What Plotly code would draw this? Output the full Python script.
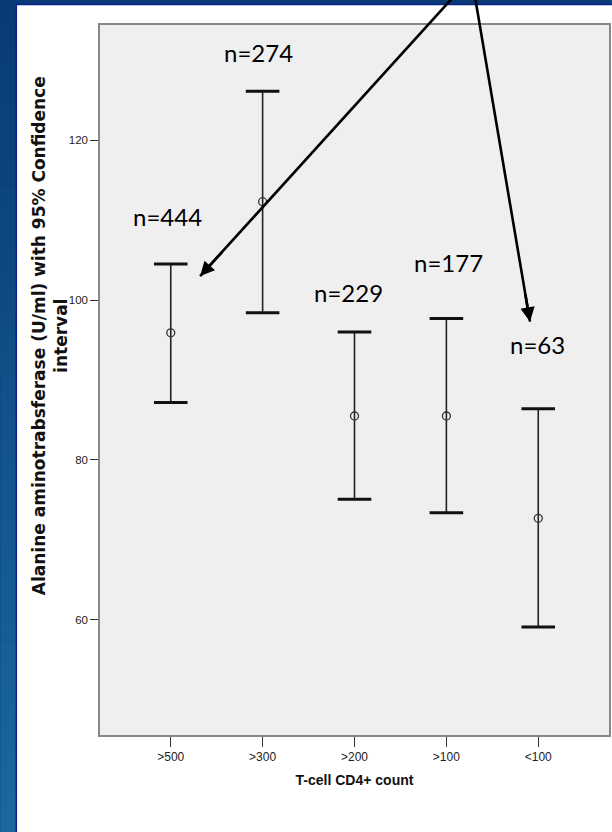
import plotly.graph_objects as go

# CD4+ count groups and ALT (U/ml) mean with 95% confidence interval
groups = [">500", ">300", ">200", ">100", "<100"]
alt_mean = [95.9, 112.3, 85.5, 85.5, 72.7]
ci_upper = [104.5, 126.1, 96.0, 97.7, 86.4]
ci_lower = [87.2, 98.4, 75.1, 73.4, 59.1]
n_labels = ["n=444", "n=274", "n=229", "n=177", "n=63"]

# placement of the n= labels (x in category units, y in axis units)
n_label_x = [-0.03, 0.96, 1.94, 3.02, 3.99]
n_label_y = [110.4, 130.9, 101.0, 104.75, 94.4]

W, H = 612, 832
L, R, T, B = 100, 1, 25, 97
PW, PH = W - L - R, H - T - B
X_RANGE = [-0.77, 4.77]
Y_RANGE = [45.6, 134.4]


def px(x):
    return (x - L) / PW


def py(y):
    return (H - B - y) / PH


def to_px(x, y):
    return (L + (x - X_RANGE[0]) / (X_RANGE[1] - X_RANGE[0]) * PW,
            T + (Y_RANGE[1] - y) / (Y_RANGE[1] - Y_RANGE[0]) * PH)


xi = list(range(len(groups)))
err_plus = [u - m for u, m in zip(ci_upper, alt_mean)]
err_minus = [m - l for m, l in zip(alt_mean, ci_lower)]

fig = go.Figure()

# vertical CI whiskers and mean markers
fig.add_trace(go.Scatter(
    x=xi, y=alt_mean, mode="markers",
    marker=dict(symbol="circle-open", size=8, color="#333333",
                line=dict(width=1.3, color="#333333")),
    error_y=dict(type="data", array=err_plus, arrayminus=err_minus,
                 symmetric=False, thickness=1.6, width=0, color="#222222"),
    showlegend=False, hoverinfo="skip",
))
# heavy caps at both CI ends
fig.add_trace(go.Scatter(
    x=xi + xi, y=ci_upper + ci_lower, mode="markers",
    marker=dict(symbol="line-ew", size=24,
                line=dict(width=3, color="#111111")),
    showlegend=False, hoverinfo="skip",
))

shapes = []
# blue slide background with vertical shading
top_c = (8, 58, 118)
bot_c = (26, 104, 160)
nb = 40
for i in range(nb):
    f = i / (nb - 1)
    c = tuple(int(round(a + (b - a) * f)) for a, b in zip(top_c, bot_c))
    y0 = H * i / nb
    y1 = H * (i + 1) / nb + 1
    shapes.append(dict(type="rect", xref="paper", yref="paper",
                       x0=px(0), x1=px(W), y0=py(y1), y1=py(y0),
                       fillcolor="rgb(%d,%d,%d)" % c, line=dict(width=0),
                       layer="below"))
# white chart panel with a navy edge
shapes.append(dict(type="rect", xref="paper", yref="paper",
                   x0=px(16), x1=px(W + 5), y0=py(H + 5), y1=py(4.5),
                   fillcolor="white", line=dict(width=1.5, color="#0b1f8a"),
                   layer="below"))
# grey plot area
shapes.append(dict(type="rect", xref="paper", yref="paper",
                   x0=0, x1=1, y0=0, y1=1,
                   fillcolor="#efefef", line=dict(width=0), layer="below"))

# pointer arrows coming down from above the chart: drawn as plain lines
# ending at the head, with the head added by an annotation
arrow_heads = [(0.32, 103.0), (3.91, 97.3)]
arrow_tails_px = [(488.4, -40.0), (470.2, -40.0)]

annotations = []
for (hx, hy), (tx, ty) in zip(arrow_heads, arrow_tails_px):
    hpx, hpy = to_px(hx, hy)
    shapes.append(dict(type="line", xref="paper", yref="paper",
                       x0=px(tx), y0=py(ty), x1=px(hpx), y1=py(hpy),
                       line=dict(color="black", width=2.6), layer="above"))
    annotations.append(dict(x=hx, y=hy, xref="x", yref="y",
                            ax=(tx - hpx) * 0.08, ay=(ty - hpy) * 0.08,
                            axref="pixel", ayref="pixel", text="",
                            showarrow=True, arrowhead=2, arrowsize=1.1,
                            arrowwidth=2.6, arrowcolor="black"))

for t, x, y in zip(n_labels, n_label_x, n_label_y):
    annotations.append(dict(x=x, y=y, xref="x", yref="y", text=t,
                            showarrow=False,
                            font=dict(family="Lato, Carlito, Calibri, sans-serif",
                                      size=24, color="black")))

# rotated y-axis title
annotations.append(dict(
    x=px(50), y=py(336), xref="paper", yref="paper",
    xanchor="center", yanchor="middle",
    text="<b>Alanine aminotrabsferase (U/ml) with 95% Confidence<br>interval</b>",
    textangle=-90, showarrow=False, align="center",
    font=dict(family="DejaVu Sans, Arial, sans-serif", size=17, color="#111111"),
))

narrow = "Liberation Sans Narrow, Arial Narrow, Liberation Sans, Arial, sans-serif"

fig.update_layout(
    width=W, height=H,
    margin=dict(l=L, r=R, t=T, b=B, pad=0),
    paper_bgcolor="rgb(14,70,128)",
    plot_bgcolor="rgba(0,0,0,0)",
    shapes=shapes,
    annotations=annotations,
    xaxis=dict(
        range=X_RANGE, tickmode="array", tickvals=xi, ticktext=groups,
        ticks="outside", ticklen=10, tickwidth=1.2, tickcolor="#333333",
        showgrid=False, zeroline=False,
        showline=True, linecolor="#888888", linewidth=1.5, mirror=True,
        tickfont=dict(family=narrow, size=12, color="#222222"),
        title=dict(text="<b>T-cell CD4+ count</b>", standoff=12,
                   font=dict(family=narrow, size=14, color="#111111")),
    ),
    yaxis=dict(
        range=Y_RANGE, tickmode="array", tickvals=[60, 80, 100, 120],
        ticks="outside", ticklen=8, tickwidth=1.2, tickcolor="#333333",
        showgrid=False, zeroline=False,
        showline=True, linecolor="#888888", linewidth=1.5, mirror=True,
        tickfont=dict(family=narrow, size=11.5, color="#222222"),
    ),
)

fig.write_html("out.html")
